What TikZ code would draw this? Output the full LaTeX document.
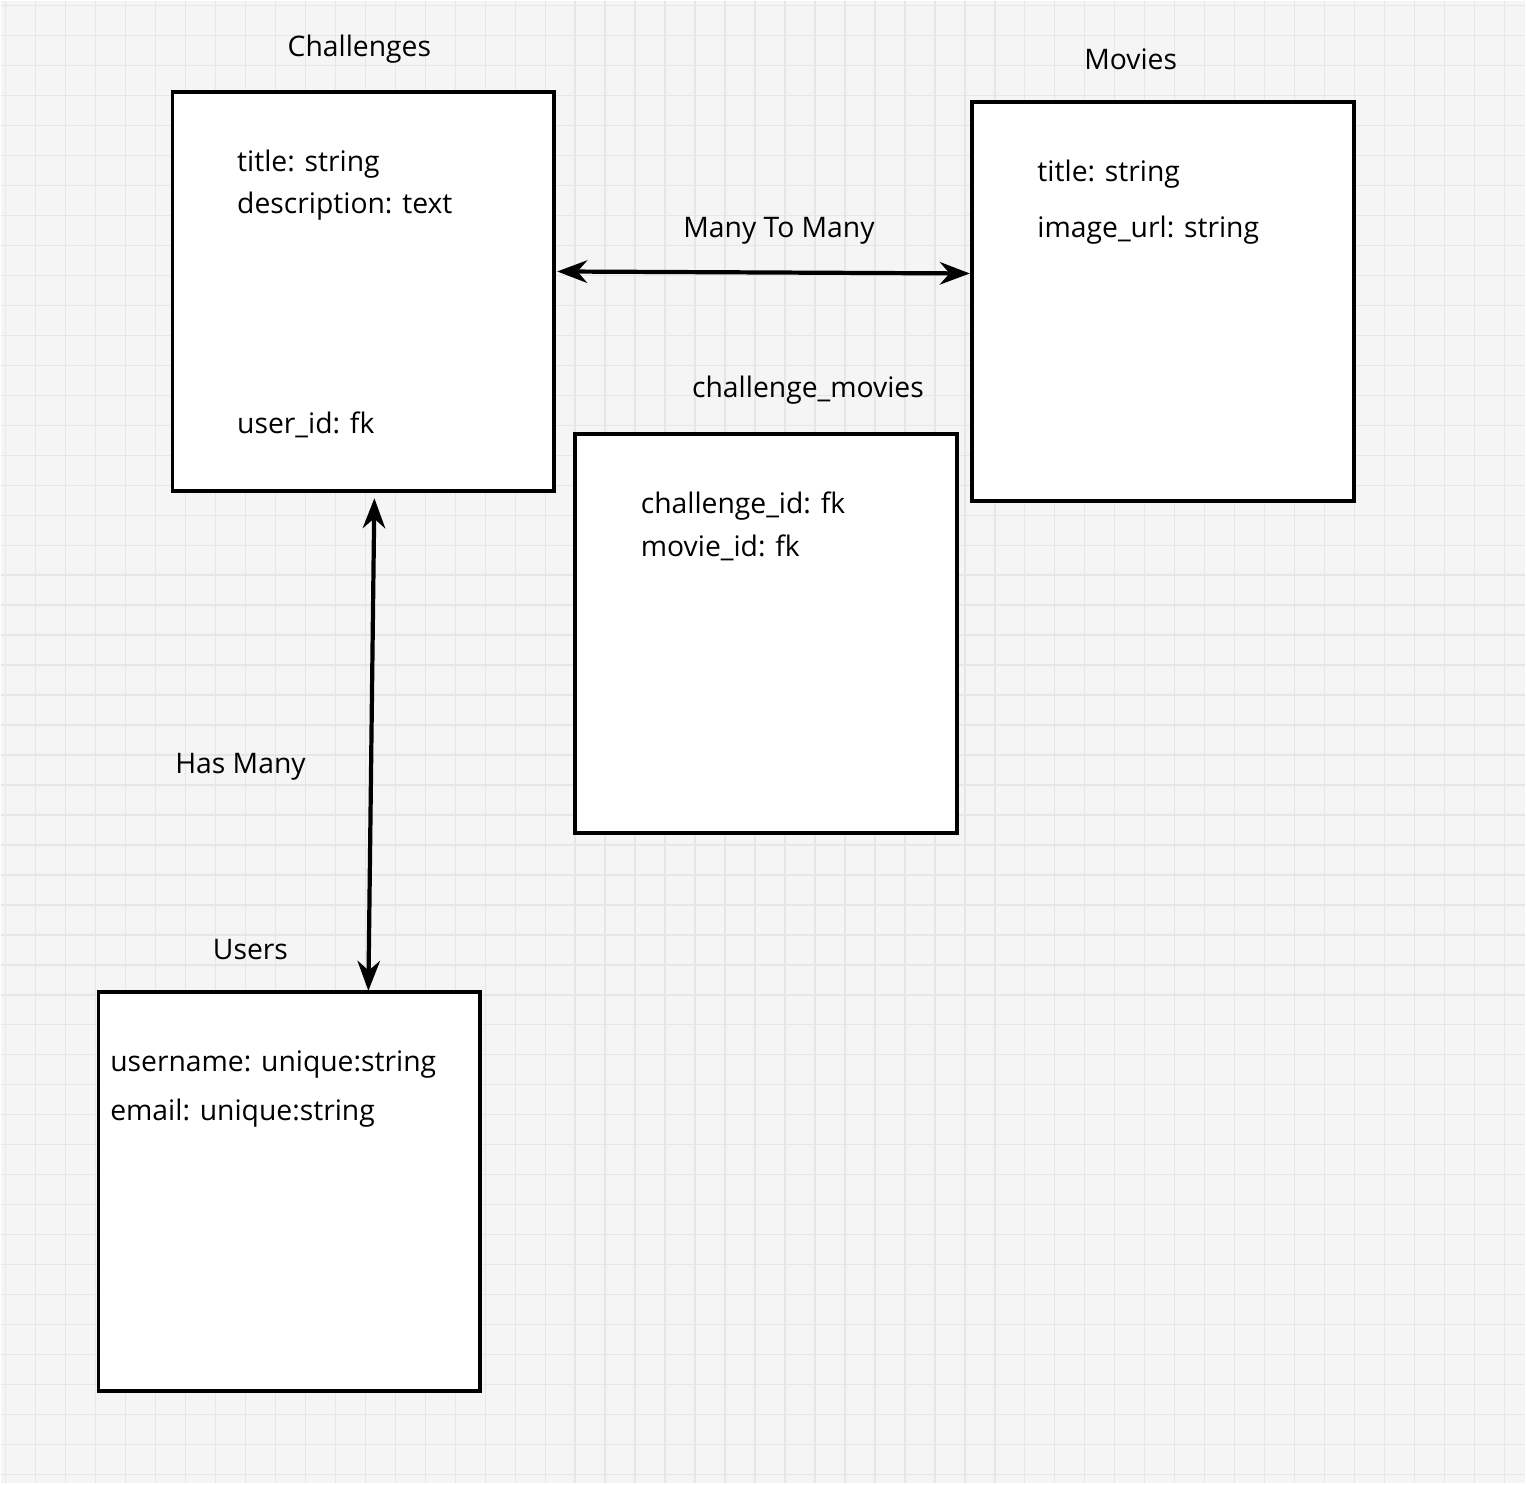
\documentclass[tikz,border=0pt]{standalone}
\usepackage{fontspec}
\setmainfont{Open Sans}
\usetikzlibrary{positioning,arrows.meta}
\definecolor{paper}{HTML}{F5F5F5}
\definecolor{gridline}{HTML}{E6E6E6}
\tikzset{
  table/.style={draw, line width=1.1pt, fill=white, minimum width=3.82cm, minimum height=3.99cm, inner sep=0pt},
  field/.style={anchor=west, font=\fontsize{8.05}{10}\selectfont, inner sep=0pt},
  caption/.style={font=\fontsize{8.05}{10}\selectfont, inner sep=0pt},
  link/.style={line width=1.2pt, {Stealth[length=3mm]}-{Stealth[length=3mm]}}
}
\begin{document}
\begin{tikzpicture}[x=0.01cm,y=-0.01cm]

%Background
\fill[paper] (0,0) rectangle (1526,1484);
\foreach \g in {5,35,...,1525} {
  \draw[gridline, thin] (\g,0) -- (\g,1484);
}
\foreach \g in {5,35,...,1484} {
  \draw[gridline, thin] (0,\g) -- (1526,\g);
}
\useasboundingbox (0,0) rectangle (1526,1484);

%Tables
\node[table] (chal) at (363,291) {};
\node[table] (movie) at (1163,301) {};
\node[table] (join) at (766,633) {};
\node[table] (user) at (289,1192) {};

%Titles
\node[caption] (chaltitle) at (359,48) {Challenges};
\node[caption] (movietitle) at (1131,59) {Movies};
\node[caption] (jointitle) at (808,390) {challenge\_movies};
\node[caption] (usertitle) at (250,950) {Users};

%Fields
\node[field] (f1) at (236,164) {title: string};
\node[field] (f2) at (236,206) {description: text};
\node[field] (f3) at (236,425) {user\_id: fk};
\node[field] (f4) at (1037,174) {title: string};
\node[field] (f5) at (1037,230) {image\_url: string};
\node[field] (f6) at (640,506) {challenge\_id: fk};
\node[field] (f7) at (640,548) {movie\_id: fk};
\node[field] (f8) at (109,1065) {username: unique:string};
\node[field] (f9) at (109,1113) {email: unique:string};

%Relations
\coordinate (a1) at (557,271);
\coordinate (a2) at (970,273);
\coordinate (b1) at (374,498);
\coordinate (b2) at (368,991);
\draw[link] (a1) -- (a2);
\draw[link] (b1) -- (b2);
\node[caption] (m2m) at (779,230) {Many To Many};
\node[caption] (hasmany) at (240,767) {Has Many};

\end{tikzpicture}
\end{document}
